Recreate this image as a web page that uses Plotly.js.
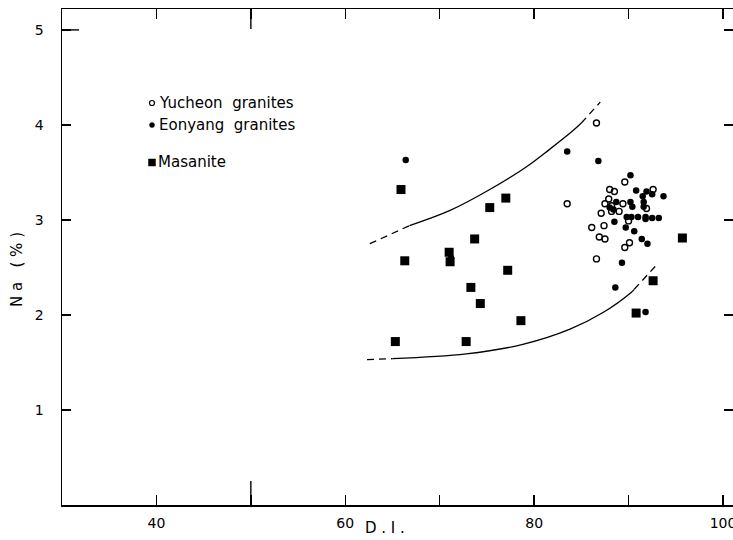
<!DOCTYPE html>
<html>
<head>
<meta charset="utf-8">
<script src="https://cdn.plot.ly/plotly-3.0.1.min.js"></script>
<style>html,body{margin:0;padding:0;background:#fff;}#chart{width:733px;height:540px;}</style>
</head>
<body>
<div id="chart"></div>
<script>
// Yucheon granites (open circles)
const yuX = [86.6, 83.5, 89.6, 88.0, 88.5, 92.6, 87.9, 87.5, 88.2, 89.4, 91.9, 88.2, 89.0, 87.1, 90.0, 87.4, 86.1, 86.9, 87.5, 90.1, 89.6, 86.6];
const yuY = [4.02, 3.17, 3.40, 3.32, 3.30, 3.32, 3.22, 3.17, 3.15, 3.17, 3.12, 3.09, 3.09, 3.07, 2.99, 2.94, 2.92, 2.82, 2.80, 2.76, 2.71, 2.59];
// Eonyang granites (filled dots)
const eoX = [66.4, 71.2, 83.5, 86.8, 90.2, 90.8, 91.9, 92.5, 93.7, 91.5, 88.7, 88.0, 90.2, 90.4, 91.6, 91.6, 88.4, 89.8, 90.3, 91.0, 91.8, 92.5, 93.2, 91.8, 88.5, 89.7, 90.6, 91.4, 92.0, 89.3, 88.6, 91.8];
const eoY = [3.63, 2.60, 3.72, 3.62, 3.47, 3.31, 3.30, 3.27, 3.25, 3.25, 3.19, 3.13, 3.19, 3.14, 3.19, 3.14, 3.11, 3.03, 3.03, 3.03, 3.03, 3.02, 3.02, 3.01, 2.98, 2.92, 2.88, 2.80, 2.75, 2.55, 2.29, 2.03];
// Masanite (filled squares)
const maX = [65.3, 65.9, 66.3, 71.0, 71.1, 73.3, 74.3, 73.7, 75.3, 77.0, 77.2, 78.6, 72.8, 95.7, 92.6, 90.8];
const maY = [1.72, 3.32, 2.57, 2.66, 2.56, 2.29, 2.12, 2.80, 3.13, 3.23, 2.47, 1.94, 1.72, 2.81, 2.36, 2.02];
// Boundary curves
const upDashAX = [62.6, 66.8];
const upDashAY = [2.75, 2.94];
const upSolidX = [66.8, 71.1, 75.3, 79.2, 81.6, 84.0, 85.0];
const upSolidY = [2.94, 3.10, 3.32, 3.56, 3.74, 3.93, 4.02];
const upDashBX = [85.0, 87.0];
const upDashBY = [4.02, 4.24];
const loDashAX = [62.3, 65.0];
const loDashAY = [1.53, 1.54];
const loSolidX = [65.0, 72.8, 78.8, 83.8, 87.2, 90.3, 90.6];
const loSolidY = [1.54, 1.59, 1.69, 1.85, 2.02, 2.24, 2.27];
const loDashBX = [90.6, 93.0];
const loDashBY = [2.27, 2.53];

const xTickVals = [40, 50, 60, 70, 80, 90, 100];
const xTickText = ['40', '', '60', '', '80', '', '100'];
const yTickVals = [1, 2, 3, 4, 5];
const yTickText = ['1', '2', '3', '4', '5'];

const lineStyle = (x, y, dash) => ({x, y, mode: 'lines', type: 'scatter', hoverinfo: 'skip',
  line: {color: '#000', width: 1.3, dash: dash ? '7px,5px' : 'solid', shape: 'spline', smoothing: 1},
  showlegend: false});

const traces = [
  lineStyle(upDashAX, upDashAY, true),
  lineStyle(upSolidX, upSolidY, false),
  lineStyle(upDashBX, upDashBY, true),
  lineStyle(loDashAX, loDashAY, true),
  lineStyle(loSolidX, loSolidY, false),
  lineStyle(loDashBX, loDashBY, true),
  {x: yuX, y: yuY, mode: 'markers', type: 'scatter', name: 'Yucheon granites', showlegend: false,
   marker: {symbol: 'circle-open', size: 6, color: '#000', line: {width: 1.4, color: '#000'}}},
  {x: eoX, y: eoY, mode: 'markers', type: 'scatter', name: 'Eonyang granites', showlegend: false,
   marker: {symbol: 'circle', size: 6.5, color: '#000'}},
  {x: maX, y: maY, mode: 'markers', type: 'scatter', name: 'Masanite', showlegend: false,
   marker: {symbol: 'square', size: 9, color: '#000'}}
];

const fnt = {family: 'DejaVu Sans, sans-serif', size: 14, color: '#000'};
const lfnt = {family: 'DejaVu Sans, sans-serif', size: 15, color: '#000'};
const PW = 671, PH = 496;
const px = v => (v - 62) / PW;
const py = v => (505 - v) / PH;

const layout = {
  width: 733, height: 540,
  margin: {l: 62, r: 0, t: 9, b: 35, pad: 0},
  paper_bgcolor: '#fff', plot_bgcolor: '#fff',
  font: fnt,
  showlegend: false,
  xaxis: {range: [30, 101.06], tickvals: xTickVals, ticktext: xTickText, ticks: 'inside', ticklen: 10,
    tickwidth: 1.4, tickcolor: '#000', showgrid: false, zeroline: false, showline: true, linecolor: '#000',
    linewidth: 1.5, mirror: 'ticks', ticklabelstandoff: 5, ticklabeloverflow: 'allow', tickfont: fnt},
  yaxis: {range: [0, 5.22], tickvals: yTickVals, ticktext: yTickText, ticks: 'inside', ticklen: 9,
    tickwidth: 1.4, tickcolor: '#000', showgrid: false, zeroline: false, showline: true, linecolor: '#000',
    linewidth: 1.5, mirror: 'ticks', ticklabelstandoff: 14, tickfont: fnt},
  shapes: [
    // longer tick marks at x = 50 (bottom and top) and y = 5 (left)
    {type: 'line', xref: 'x', yref: 'paper', x0: xTickVals[1], x1: xTickVals[1], y0: 0, y1: 24 / PH,
     line: {color: '#000', width: 1.4}},
    {type: 'line', xref: 'x', yref: 'paper', x0: xTickVals[1], x1: xTickVals[1], y0: 1, y1: 1 - 20 / PH,
     line: {color: '#000', width: 1.4}},
    {type: 'line', xref: 'paper', yref: 'y', x0: 0, x1: 17 / PW, y0: yTickVals[4], y1: yTickVals[4],
     line: {color: '#000', width: 1.4}},
    // legend symbols
    {type: 'circle', xref: 'paper', yref: 'paper', x0: px(149.5), x1: px(154.5), y0: py(100.5), y1: py(105.5),
     line: {color: '#000', width: 1.2}, fillcolor: 'rgba(0,0,0,0)'},
    {type: 'circle', xref: 'paper', yref: 'paper', x0: px(149.5), x1: px(154.5), y0: py(122.5), y1: py(127.5),
     line: {color: '#000', width: 0.5}, fillcolor: '#000'},
    {type: 'rect', xref: 'paper', yref: 'paper', x0: px(148.5), x1: px(155.5), y0: py(159), y1: py(166),
     line: {color: '#000', width: 0.5}, fillcolor: '#000'}
  ],
  annotations: [
    {text: 'Yucheon  granites', xref: 'paper', yref: 'paper', x: px(157), y: py(103),
     xanchor: 'left', yanchor: 'middle', showarrow: false, font: lfnt},
    {text: 'Eonyang  granites', xref: 'paper', yref: 'paper', x: px(157), y: py(125),
     xanchor: 'left', yanchor: 'middle', showarrow: false, font: lfnt},
    {text: 'Masanite', xref: 'paper', yref: 'paper', x: px(156), y: py(162),
     xanchor: 'left', yanchor: 'middle', showarrow: false, font: lfnt},
    {text: 'D . I .', xref: 'paper', yref: 'paper', x: px(385), y: py(528),
     xanchor: 'center', yanchor: 'middle', showarrow: false, font: lfnt},
    {text: 'N a   ( % )', xref: 'paper', yref: 'paper', x: px(17), y: py(270),
     xanchor: 'center', yanchor: 'middle', showarrow: false, textangle: -90, font: lfnt}
  ]
};

Plotly.newPlot('chart', traces, layout, {staticPlot: true, displayModeBar: false});
</script>
</body>
</html>
